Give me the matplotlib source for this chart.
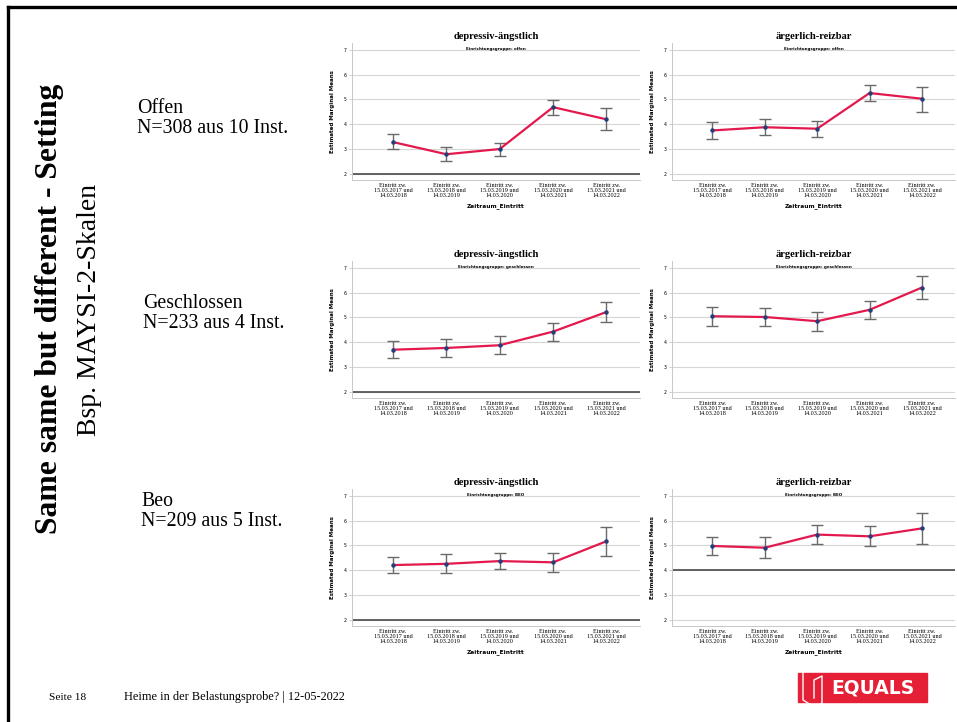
import matplotlib
matplotlib.use("Agg")
import matplotlib.pyplot as plt
from matplotlib.patches import Rectangle
from matplotlib.lines import Line2D

# Zeitraeume (x-Achse)
zeitraum = ["Eintritt zw.\n15.03.2017 und\n14.03.2018",
            "Eintritt zw.\n15.03.2018 und\n14.03.2019",
            "Eintritt zw.\n15.03.2019 und\n14.03.2020",
            "Eintritt zw.\n15.03.2020 und\n14.03.2021",
            "Eintritt zw.\n15.03.2021 und\n14.03.2022"]

# Estimated Marginal Means mit oberer / unterer Grenze
offen_depr = [3.28, 2.79, 3.00, 4.69, 4.20]
offen_depr_lo = [2.99, 2.52, 2.70, 4.37, 3.75]
offen_depr_hi = [3.60, 3.08, 3.26, 4.98, 4.65]

offen_aerg = [3.75, 3.88, 3.82, 5.26, 5.03]
offen_aerg_lo = [3.39, 3.56, 3.49, 4.92, 4.51]
offen_aerg_hi = [4.08, 4.21, 4.13, 5.60, 5.52]

geschl_depr = [3.70, 3.77, 3.88, 4.43, 5.22]
geschl_depr_lo = [3.35, 3.42, 3.51, 4.07, 4.81]
geschl_depr_hi = [4.05, 4.12, 4.24, 4.77, 5.62]

geschl_aerg = [5.05, 5.02, 4.85, 5.31, 6.21]
geschl_aerg_lo = [4.67, 4.67, 4.45, 4.94, 5.76]
geschl_aerg_hi = [5.42, 5.39, 5.23, 5.68, 6.66]

beo_depr = [4.21, 4.26, 4.37, 4.32, 5.17]
beo_depr_lo = [3.87, 3.89, 4.04, 3.94, 4.57]
beo_depr_hi = [4.55, 4.64, 4.71, 4.70, 5.73]

beo_aerg = [4.98, 4.91, 5.44, 5.37, 5.69]
beo_aerg_lo = [4.62, 4.51, 5.06, 4.96, 5.06]
beo_aerg_hi = [5.36, 5.33, 5.81, 5.78, 6.31]

gruppen = ["offen", "geschlossen", "BEO"]
skalen = ["depressiv-ängstlich", "ärgerlich-reizbar"]
ref_linien = [2, None, 2, None, 2, 4]

gruppen_text = ["Offen\nN=308 aus 10 Inst.",
                "Geschlossen\nN=233 aus 4 Inst.",
                "Beo\nN=209 aus 5 Inst."]

panels = [(offen_depr, offen_depr_lo, offen_depr_hi),
          (offen_aerg, offen_aerg_lo, offen_aerg_hi),
          (geschl_depr, geschl_depr_lo, geschl_depr_hi),
          (geschl_aerg, geschl_aerg_lo, geschl_aerg_hi),
          (beo_depr, beo_depr_lo, beo_depr_hi),
          (beo_aerg, beo_aerg_lo, beo_aerg_hi)]

W, H = 957, 722
fig = plt.figure(figsize=(W / 100, H / 100), dpi=100)

serif = "Liberation Serif"
sans = "DejaVu Sans"

row_tops = [43, 261, 489]
col_lefts = [352, 672]
col_widths = [288, 283]
ax_h = 137

for i, (mean, lo, hi) in enumerate(panels):
    r, c = divmod(i, 2)
    left = col_lefts[c] / W
    bottom = 1 - (row_tops[r] + ax_h) / H
    ax = fig.add_axes([left, bottom, col_widths[c] / W, ax_h / H])

    x = list(range(len(mean)))
    yerr = [[m - l for m, l in zip(mean, lo)], [h - m for m, h in zip(mean, hi)]]
    for g in range(2, 8):
        ax.axhline(g, color="#d6d6d6", lw=0.8, zorder=0)
    if ref_linien[i] is not None:
        ax.axhline(ref_linien[i], color="#4a4a4a", lw=1.2, zorder=1)
    ax.errorbar(x, mean, yerr=yerr, fmt="none", ecolor="#6a6a6a",
                elinewidth=1.0, capsize=4.5, capthick=1.0, zorder=2)
    ax.plot(x, mean, color="#e3194d", lw=1.6, zorder=3)
    ax.plot(x, mean, "o", color="#243f7a", ms=2.2, zorder=4)

    ax.set_xlim(-0.77, 4.63)
    ax.set_ylim(1.75, 7.28)
    ax.set_yticks(range(2, 8))
    ax.set_yticklabels([str(v) for v in range(2, 8)], fontsize=3.3, family=sans)
    ax.set_xticks(x)
    ax.set_xticklabels(zeitraum, fontsize=4.4, family=serif, linespacing=1.0)
    ax.tick_params(axis="x", length=0, pad=2.5)
    ax.tick_params(axis="y", length=2, width=0.5, color="#bbbbbb", pad=2)
    for s in ["top", "right"]:
        ax.spines[s].set_visible(False)
    for s in ["left", "bottom"]:
        ax.spines[s].set_color("#c8c8c8")
        ax.spines[s].set_linewidth(0.7)
    ax.set_ylabel("Estimated Marginal Means", fontsize=4.0, family=sans,
                  fontweight="bold", labelpad=6)
    ax.set_xlabel("Zeitraum_Eintritt", fontsize=4.2, family=sans,
                  fontweight="bold", labelpad=3.5, alpha=0.0 if r == 1 else 1.0)
    ax.text(0.5, 1.045, skalen[c], transform=ax.transAxes, ha="center",
            va="center", fontsize=7.6, family=serif, fontweight="bold")
    ax.text(0.5, 0.955, "Einrichtungsgruppe: " + gruppen[r], transform=ax.transAxes,
            ha="center", va="center", fontsize=2.9, family=sans, fontweight="bold")

# Gruppen-Beschriftung links der Diagramme
for r, txt in enumerate(gruppen_text):
    xs = [137, 143, 141][r]
    ys = [99, 294, 492][r]
    fig.text(xs / W, 1 - ys / H, txt, ha="left", va="top", fontsize=14.3,
             family=serif, linespacing=1.05)

# senkrechter Folientitel
fig.text(50 / W, 1 - 309 / H, "Same same but different - Setting", rotation=90,
         ha="center", va="center", fontsize=22.8, family=serif, fontweight="bold")
fig.text(89 / W, 1 - 310 / H, "Bsp. MAYSI-2-Skalen", rotation=90,
         ha="center", va="center", fontsize=20, family=serif)

# Rahmen
fig.add_artist(Line2D([8 / W, 1], [1 - 7 / H, 1 - 7 / H], color="black", lw=2.4,
                      transform=fig.transFigure))
fig.add_artist(Line2D([8 / W, 8 / W], [1 - 7 / H, 0], color="black", lw=2.4,
                      transform=fig.transFigure))

# Fusszeile
fig.text(49 / W, 1 - 697 / H, "Seite 18", ha="left", va="center", fontsize=8.2,
         family=serif)
fig.text(124 / W, 1 - 697 / H, "Heime in der Belastungsprobe? | 12-05-2022",
         ha="left", va="center", fontsize=8.8, family=serif)

# Logo
fig.add_artist(Rectangle((798 / W, 1 - 702 / H), 129 / W, 29 / H, color="#e41f36",
                         transform=fig.transFigure))
fig.text(873 / W, 1 - 688 / H, "EQUALS", ha="center", va="center", fontsize=13.5,
         family=sans, fontweight="bold", color="white")
clip_x = [812, 803, 803, 816, 822, 822, 814, 814]
clip_y = [668, 672, 700, 708, 703, 676, 680, 698]
fig.add_artist(Line2D([v / W for v in clip_x], [1 - v / H for v in clip_y],
                      color="white", lw=1.0, transform=fig.transFigure))

fig.savefig("out.png", dpi=100)
